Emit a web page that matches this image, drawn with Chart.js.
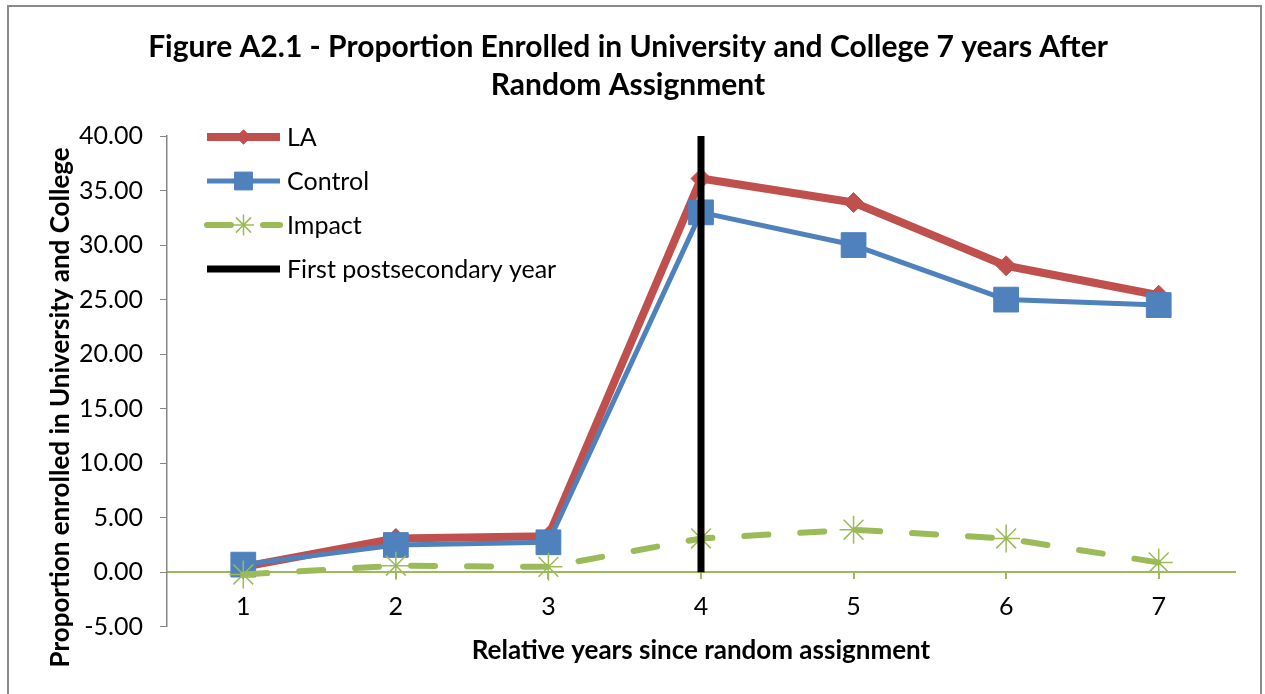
<!DOCTYPE html>
<html>
<head>
<meta charset="utf-8">
<title>Figure A2.1</title>
<script src="https://cdn.jsdelivr.net/npm/chart.js@4.4.1/dist/chart.umd.min.js"></script>
<style>
  html, body { margin: 0; padding: 0; background: #fff; }
  #wrap { position: relative; width: 1265px; height: 694px; overflow: hidden; }
  #wrap canvas { position: absolute; left: 0; top: 0; }
  #frame { position: absolute; left: 7px; top: 5px; width: 1255px; height: 720px; border: 2px solid #8a8a8a; box-sizing: border-box; pointer-events: none; }
</style>
</head>
<body>
<div id="wrap">
  <canvas id="enrolChart" width="1265" height="694"></canvas>
  <div id="frame"></div>
</div>
<script>
// years since random assignment
var years = ['1', '2', '3', '4', '5', '6', '7'];
// proportion enrolled, per group
var laValues = [0.5, 3.1, 3.3, 36.1, 33.9, 28.1, 25.4];
var controlValues = [0.7, 2.5, 2.75, 33.0, 30.0, 25.0, 24.5];
var impactValues = [-0.2, 0.6, 0.5, 3.1, 3.9, 3.1, 0.9];
// marker for the first postsecondary year
var firstPostYear = '4';
var firstPostSpan = [0, 40];
// y axis range
var yMin = -5, yMax = 40, yStep = 5;
var yTitleText = 'Proportion enrolled in University and College';

var FONT = 'Lato, Carlito, Calibri, sans-serif';
var RED = '#C0504D', BLUE = '#4F81BD', GREEN = '#9BBB59';

// excel-style legend: line sample with the marker in the middle
var lineLegend = {
  id: 'lineLegend',
  afterDatasetsDraw: function(chart) {
    var ctx = chart.ctx, area = chart.chartArea;
    var x0 = area.left + 40, x1 = area.left + 113, xm = (x0 + x1) / 2;
    ctx.save();
    chart.data.datasets.forEach(function(ds, i) {
      var y = area.top + 1 + i * 44;
      ctx.strokeStyle = ds.borderColor;
      ctx.lineWidth = ds.borderWidth;
      ctx.lineCap = ds.borderCapStyle || 'butt';
      ctx.setLineDash(ds.borderDash || []);
      ctx.beginPath(); ctx.moveTo(x0, y); ctx.lineTo(x1, y); ctx.stroke();
      ctx.setLineDash([]);
      if (ds.pointRadius > 0) {
        ctx.fillStyle = ds.pointBackgroundColor;
        ctx.strokeStyle = ds.pointBorderColor;
        ctx.lineWidth = ds.pointBorderWidth;
        Chart.helpers.drawPoint(ctx, { pointStyle: ds.pointStyle, radius: ds.pointRadius * 0.72, rotation: 0, borderWidth: ds.pointBorderWidth }, xm, y);
      }
      ctx.fillStyle = '#000';
      ctx.font = '25px ' + FONT;
      ctx.textBaseline = 'middle';
      ctx.textAlign = 'left';
      ctx.fillText(ds.label, x1 + 7, y + 1);
    });
    ctx.restore();
  }
};

// vertical axis title, sitting a little below the plot's middle like excel does
var yAxisTitle = {
  id: 'yAxisTitle',
  afterDraw: function(chart) {
    var ctx = chart.ctx, area = chart.chartArea, ys = chart.scales.y;
    ctx.save();
    ctx.translate(ys.left + 40, (area.top + area.bottom) / 2 + 26);
    ctx.rotate(-Math.PI / 2);
    ctx.fillStyle = '#000';
    ctx.font = 'bold 26px ' + FONT;
    ctx.textAlign = 'center';
    ctx.textBaseline = 'middle';
    ctx.fillText(yTitleText, 0, 0);
    ctx.restore();
  }
};

new Chart(document.getElementById('enrolChart'), {
  type: 'line',
  data: {
    labels: years,
    datasets: [
      { label: 'LA', data: laValues, borderColor: RED, backgroundColor: RED, borderWidth: 8,
        pointStyle: 'rectRot', pointRadius: 10, pointBackgroundColor: RED, pointBorderColor: RED, pointBorderWidth: 1,
        borderJoinStyle: 'round', order: 4 },
      { label: 'Control', data: controlValues, borderColor: BLUE, backgroundColor: BLUE, borderWidth: 5,
        pointStyle: 'rect', pointRadius: 17.5, pointBackgroundColor: BLUE, pointBorderColor: BLUE, pointBorderWidth: 1,
        borderJoinStyle: 'round', order: 3 },
      { label: 'Impact', data: impactValues, borderColor: GREEN, backgroundColor: GREEN, borderWidth: 6,
        borderDash: [24, 32], borderCapStyle: 'round',
        pointStyle: 'star', pointRadius: 14, pointBackgroundColor: GREEN, pointBorderColor: GREEN, pointBorderWidth: 1.5,
        order: 2 },
      { label: 'First postsecondary year',
        data: firstPostSpan.map(function(v) { return { x: firstPostYear, y: v }; }),
        borderColor: '#000', backgroundColor: '#000', borderWidth: 7, pointRadius: 0, order: 1 }
    ]
  },
  options: {
    responsive: false,
    devicePixelRatio: 1,
    animation: false,
    layout: { padding: { left: 21, right: 30, top: 0, bottom: 24 } },
    plugins: {
      legend: { display: false },
      tooltip: { enabled: false },
      title: {
        display: true,
        text: ['Figure A2.1 - Proportion Enrolled in University and College 7 years After', 'Random Assignment'],
        color: '#000',
        font: { family: FONT, size: 30, weight: 'bold', lineHeight: 1.25 },
        padding: { top: 29, bottom: 32 }
      }
    },
    scales: {
      x: {
        type: 'category',
        offset: true,
        position: { y: 0 },
        grid: { drawOnChartArea: false, drawTicks: true, tickLength: 6, offset: false, color: GREEN, lineWidth: 2 },
        border: { color: GREEN, width: 2 },
        ticks: { color: '#000', font: { family: FONT, size: 25 }, padding: 14 }
      },
      xTitle: {
        type: 'category',
        labels: years,
        position: 'bottom',
        offset: true,
        grid: { display: false, drawTicks: false },
        border: { display: false },
        ticks: { display: false },
        title: {
          display: true,
          text: 'Relative years since random assignment',
          color: '#000',
          font: { family: FONT, size: 26, weight: 'bold', lineHeight: 1.2 },
          padding: { top: 8, bottom: 4 }
        }
      },
      y: {
        min: yMin,
        max: yMax,
        grid: { drawOnChartArea: false, drawTicks: true, tickLength: 7, color: '#868686' },
        border: { color: '#868686', width: 1.5 },
        ticks: {
          stepSize: yStep,
          color: '#000',
          font: { family: FONT, size: 25 },
          padding: 17,
          callback: function(v) { return Number(v).toFixed(2); }
        },
        title: { display: false },
        afterFit: function(scale) { scale.width = 146; }
      }
    }
  },
  plugins: [lineLegend, yAxisTitle]
});
</script>
</body>
</html>
